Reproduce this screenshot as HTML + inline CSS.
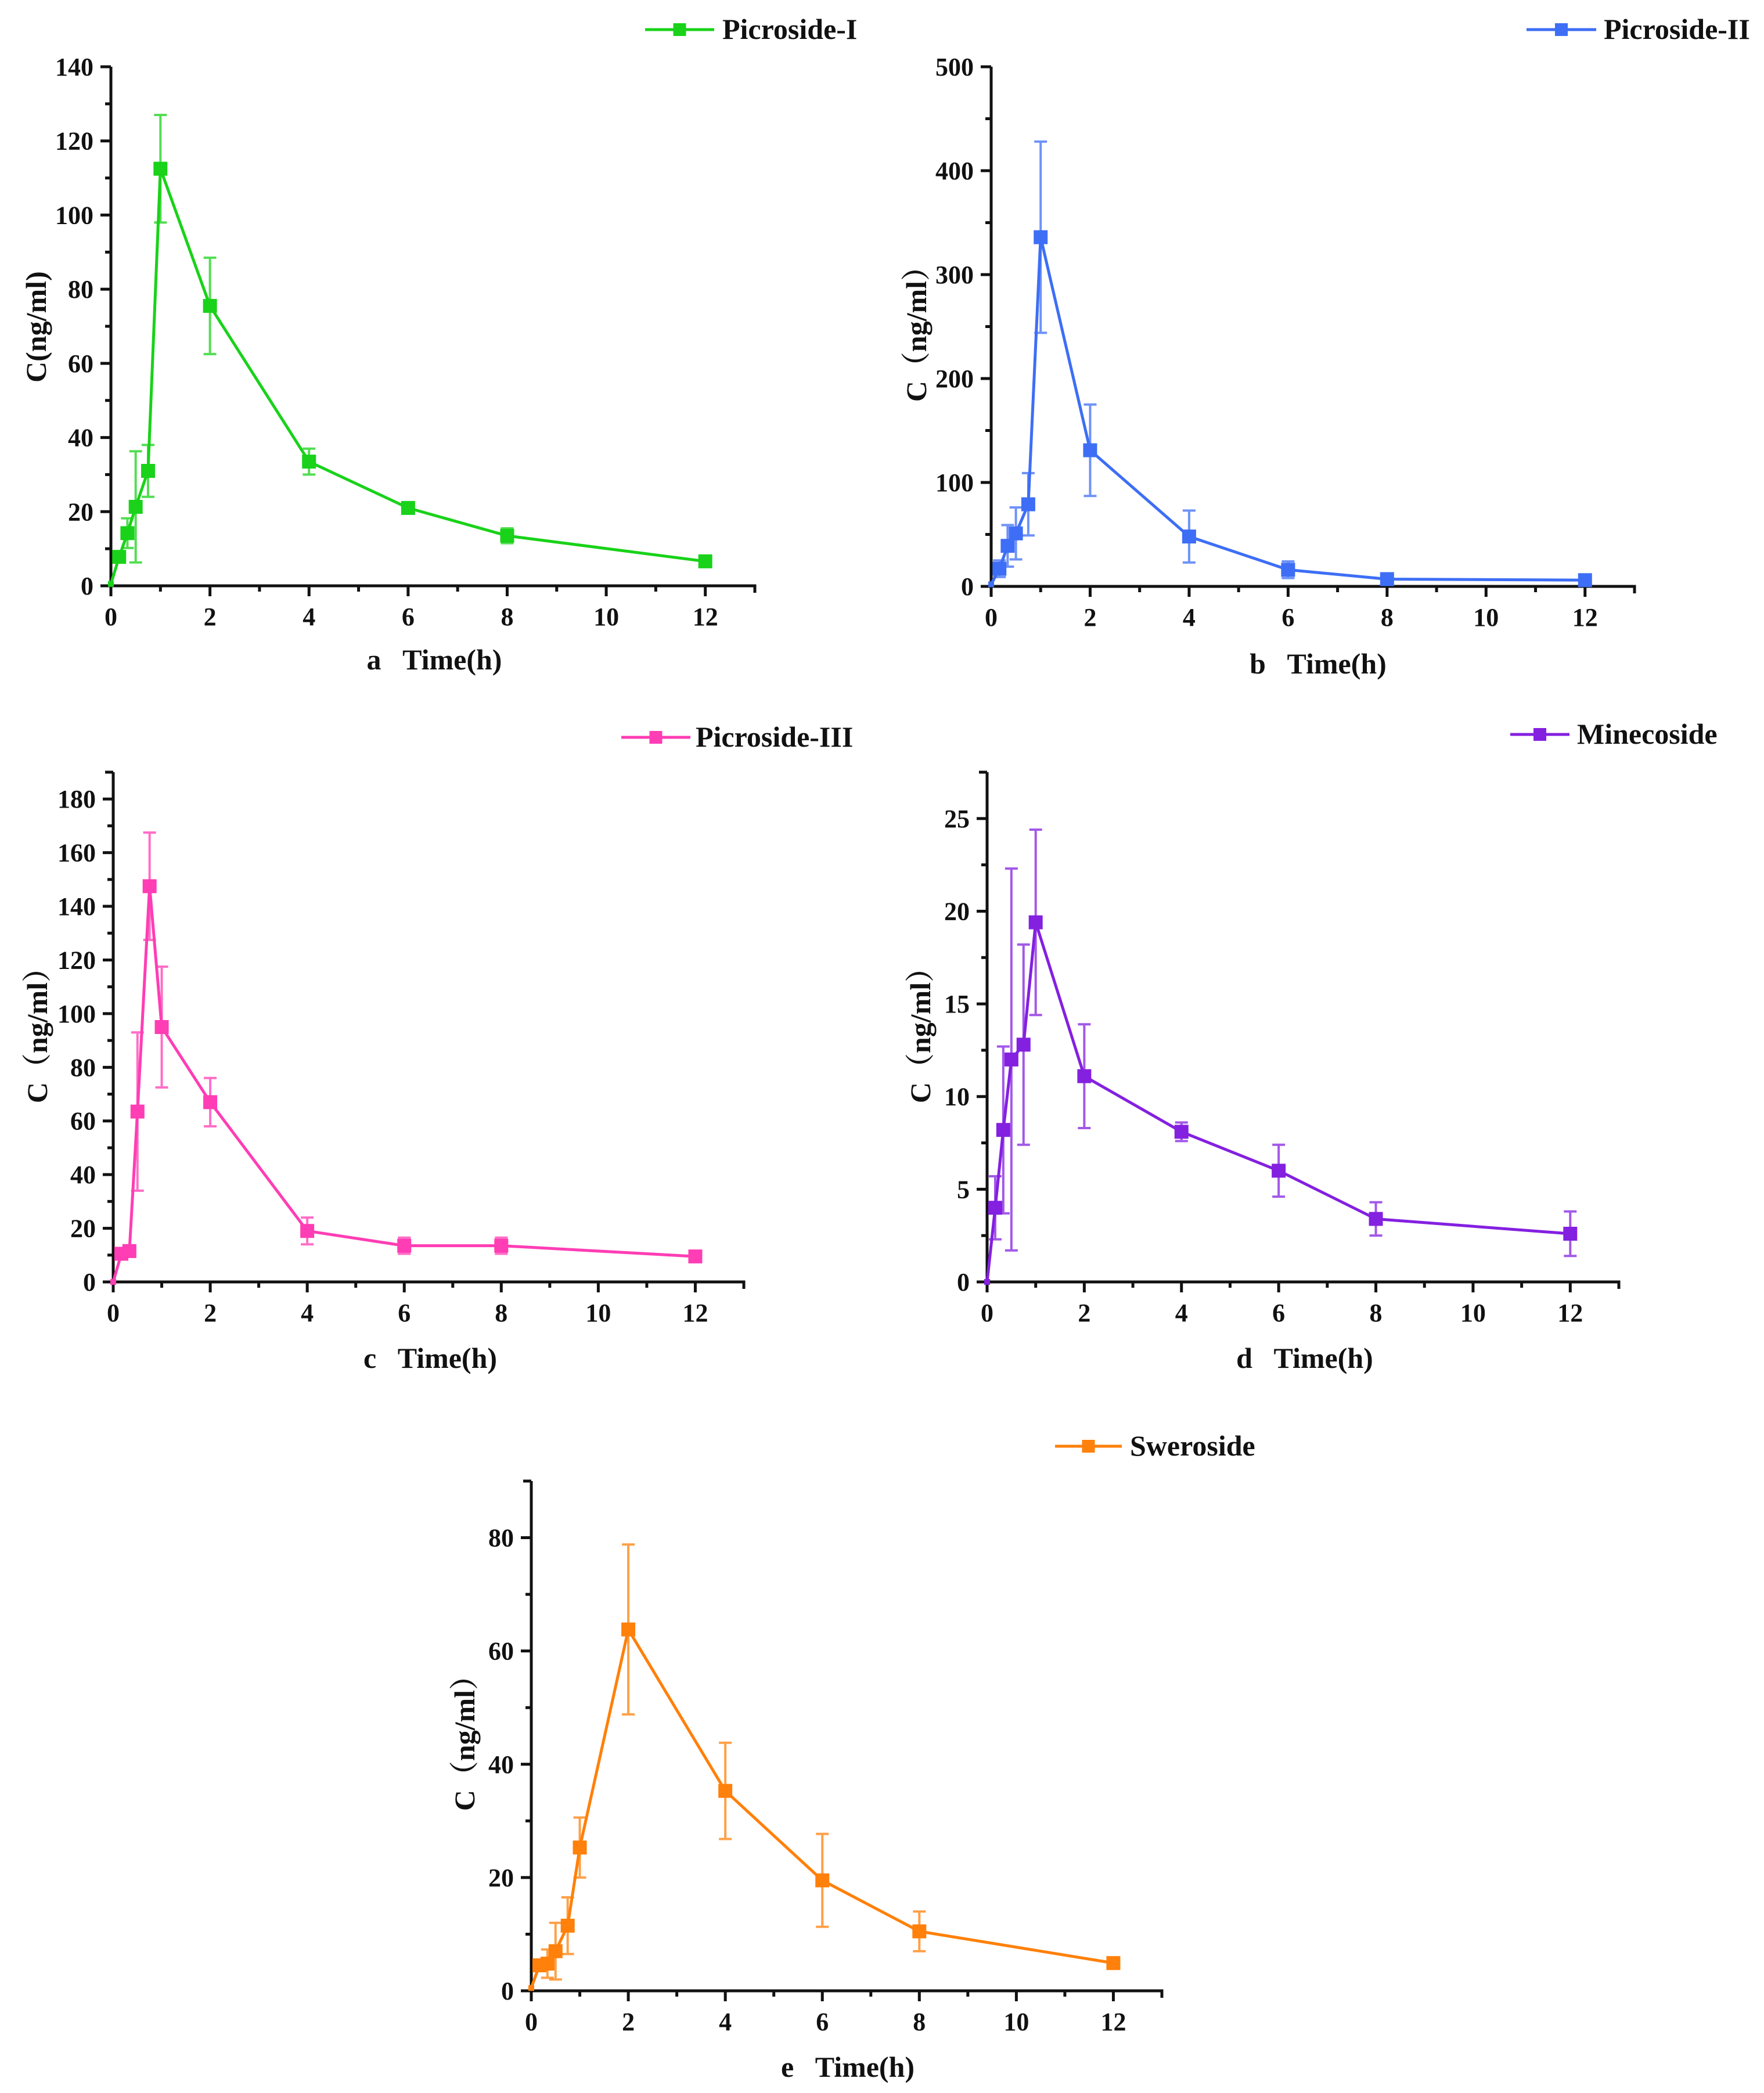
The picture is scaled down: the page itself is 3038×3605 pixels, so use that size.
<!DOCTYPE html>
<html><head><meta charset="utf-8"><style>
html,body{margin:0;padding:0;background:#fff;}
svg{display:block;}
text{font-family:"Liberation Serif","Noto Serif CJK SC",serif;font-weight:bold;fill:#111;white-space:pre;}
</style></head><body>
<svg id="chart" width="3038" height="3605" viewBox="0 0 3038 3605" xmlns="http://www.w3.org/2000/svg"></svg>
<script>
const timesA = [0,0.167,0.333,0.5,0.75,1,2,4,6,8,12];
const valuesA = [0.5,7.8,14.2,21.3,31,112.5,75.5,33.5,21,13.5,6.6];
const errorsA = [0,0,4,15,7,14.5,13,3.5,1,2,0];
const timesB = [0,0.167,0.333,0.5,0.75,1,2,4,6,8,12];
const valuesB = [2,17,39,51,79,336,131,48,16,7,6];
const errorsB = [0,8,20,25,30,92,44,25,8,3,2];
const timesC = [0,0.167,0.333,0.5,0.75,1,2,4,6,8,12];
const valuesC = [0,10.5,11.5,63.5,147.5,95,67,19,13.5,13.5,9.5];
const errorsC = [0,1,1.5,29.5,20,22.5,9,5,3,3,0.8];
const timesD = [0,0.167,0.333,0.5,0.75,1,2,4,6,8,12];
const valuesD = [0,4,8.2,12,12.8,19.4,11.1,8.1,6,3.4,2.6];
const errorsD = [0,1.7,4.5,10.3,5.4,5,2.8,0.5,1.4,0.9,1.2];
const timesE = [0,0.167,0.333,0.5,0.75,1,2,4,6,8,12];
const valuesE = [0.5,4.5,4.8,7,11.5,25.3,63.8,35.3,19.5,10.5,4.9];
const errorsE = [0,1,2.5,5,5,5.3,15,8.5,8.2,3.5,0.3];
const yTicksA = [0,20,40,60,80,100,120,140];
const yTicksB = [0,100,200,300,400,500];
const yTicksC = [0,20,40,60,80,100,120,140,160,180];
const yTicksD = [0,5,10,15,20,25];
const yTicksE = [0,20,40,60,80];
const xTicks = [0,2,4,6,8,10,12];

const NS = "http://www.w3.org/2000/svg";
const svg = document.getElementById('chart');
function mk(tag, attrs, parent){const e=document.createElementNS(NS,tag);for(const k in attrs)e.setAttribute(k,attrs[k]);(parent||svg).appendChild(e);return e;}

const panels = [
 {id:'a',name:'Picroside-I',color:'#19d219',x0:191,x1:1300,y0:1009,y1:115,ymax:140,minor:10,t:timesA,v:valuesA,e:errorsA,yt:yTicksA,
  leg:[1111,1230,51,1244],xl:[748,1136,'a   Time(h)'],yl:[62,563,'C(ng/ml)']},
 {id:'b',name:'Picroside-II',color:'#3d6ef5',x0:1707,x1:2815,y0:1010,y1:115,ymax:500,minor:50,t:timesB,v:valuesB,e:errorsB,yt:yTicksB,
  leg:[2629,2749,51,2762],xl:[2270,1143,'b   Time(h)'],yl:[1578,563,'C（ng/ml）']},
 {id:'c',name:'Picroside-III',color:'#ff3db4',x0:195,x1:1281,y0:2208,y1:1330,ymax:190,minor:10,t:timesC,v:valuesC,e:errorsC,yt:yTicksC,
  leg:[1070,1189,1270,1198],xl:[741,2339,'c   Time(h)'],yl:[64,1771,'C（ng/ml）']},
 {id:'d',name:'Minecoside',color:'#8420e0',x0:1700,x1:2788,y0:2208,y1:1330,ymax:27.5,minor:2.5,t:timesD,v:valuesD,e:errorsD,yt:yTicksD,
  leg:[2601,2703,1265,2716],xl:[2247,2339,'d   Time(h)'],yl:[1585,1771,'C（ng/ml）']},
 {id:'e',name:'Sweroside',color:'#ff800a',x0:915,x1:2001,y0:3429,y1:2551,ymax:90,minor:10,t:timesE,v:valuesE,e:errorsE,yt:yTicksE,
  leg:[1817,1932,2491,1946],xl:[1460,3560,'e   Time(h)'],yl:[800,2990,'C（ng/ml）']}
];

panels.forEach(p=>{
  const g = mk('g',{});
  
  
  const xmax = 13;
  const sx = t => p.x0 + (p.x1-p.x0)*t/xmax;
  const sy = v => p.y0 - (p.y0-p.y1)*v/p.ymax;
  const ax = mk('path',{d:`M${p.x0} ${p.y1}H${p.x0-14}M${p.x0} ${p.y1}V${p.y0}H${p.x1}V${p.y0+12}`,stroke:'#111','stroke-width':5,fill:'none'},g);
  
  
  for(let t=0;t<=xmax;t++){
    const major = t%2===0;
    mk('line',{x1:sx(t),x2:sx(t),y1:p.y0,y2:p.y0+(major?18:10),stroke:'#111','stroke-width':5},g);
  }
  xTicks.forEach(t=>{
    const tx = mk('text',{x:sx(t),y:p.y0+68,'font-size':44,'text-anchor':'middle'},g);
    tx.textContent=t;
    
    
  });
  for(let v=0;v<=p.ymax+1e-9;v+=p.minor){
    const major = p.yt.some(y=>Math.abs(y-v)<1e-9);
    mk('line',{x1:p.x0,x2:p.x0-(major?18:10),y1:sy(v),y2:sy(v),stroke:'#111','stroke-width':5},g);
  }
  p.yt.forEach(v=>{
    const tx = mk('text',{x:p.x0-30,y:sy(v)+15,'font-size':44,'text-anchor':'end'},g);
    tx.textContent=v;
    
    
  });
  const xl = mk('text',{x:p.xl[0],y:p.xl[1]+17,'font-size':50,'text-anchor':'middle'},g);
  xl.textContent=p.xl[2];
  
  
  const yl = mk('text',{x:0,y:0,'font-size':50,'text-anchor':'middle',transform:`translate(${p.yl[0]+17},${p.yl[1]}) rotate(-90)`},g);
  yl.textContent=p.yl[2];
  
  
  p.t.forEach((t,i)=>{
    if(p.e[i]<=0) return;
    const x=sx(t), a=sy(p.v[i]+p.e[i]), b=sy(p.v[i]-p.e[i]);
    const eb = mk('path',{d:`M${x} ${a}V${b}M${x-11} ${a}H${x+11}M${x-11} ${b}H${x+11}`,stroke:p.color,'stroke-width':4,fill:'none',opacity:0.75},g);
    
    
  });
  const line = mk('polyline',{points:p.t.map((t,i)=>sx(t)+','+sy(p.v[i])).join(' '),stroke:p.color,'stroke-width':5,fill:'none','stroke-linejoin':'round'},g);
  
  
  p.t.forEach((t,i)=>{
    const s = (i===0)?10:24;
    const r = mk('rect',{x:sx(t)-s/2,y:sy(p.v[i])-s/2,width:s,height:s,fill:p.color},g);
    
    
  });
  const lg = mk('g',{},g);
  
  
  mk('line',{x1:p.leg[0],x2:p.leg[1],y1:p.leg[2],y2:p.leg[2],stroke:p.color,'stroke-width':5},lg);
  const mid=(p.leg[0]+p.leg[1])/2;
  mk('rect',{x:mid-11,y:p.leg[2]-11,width:22,height:22,fill:p.color},lg);
  const lt = mk('text',{x:p.leg[3],y:p.leg[2]+16,'font-size':50},lg);
  lt.textContent=p.name;
});
</script>
</body></html>
